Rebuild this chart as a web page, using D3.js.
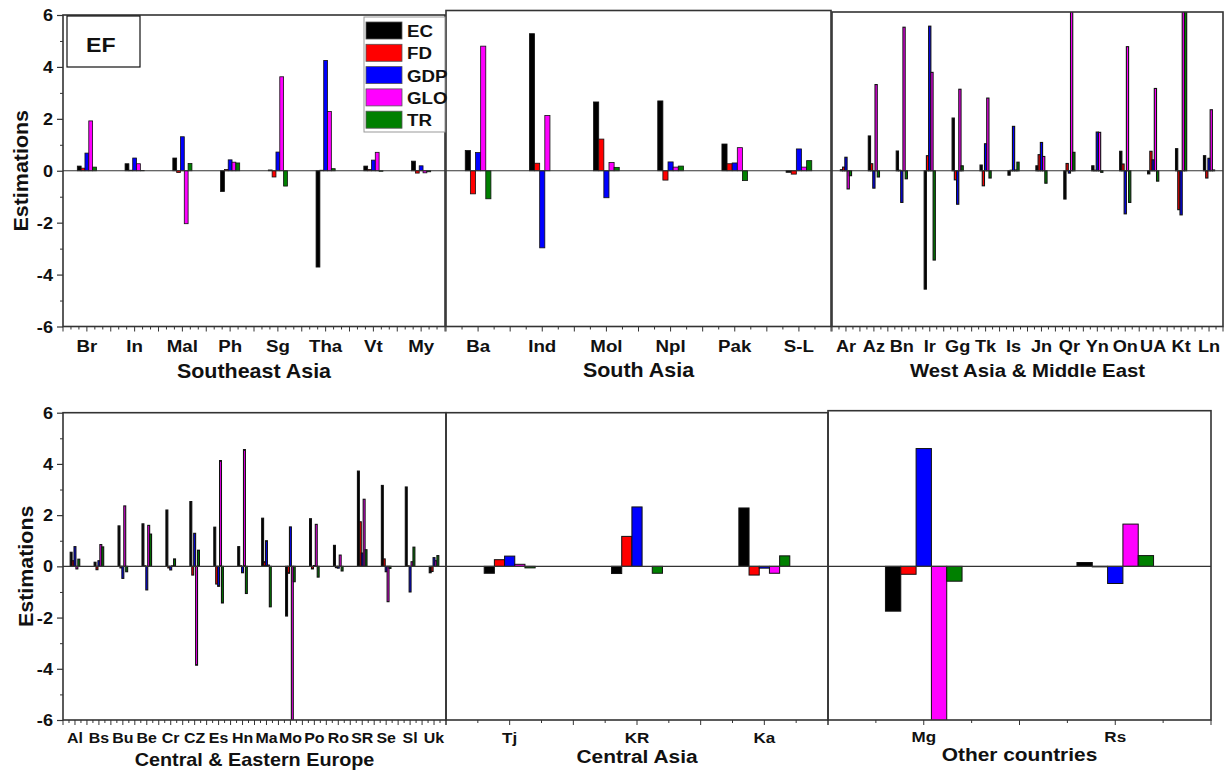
<!DOCTYPE html>
<html>
<head>
<meta charset="utf-8">
<script src="https://cdn.jsdelivr.net/npm/d3@7"></script>
<style>
  body { margin: 0; background: #fff; }
  text { font-family: "Liberation Sans", Arial, sans-serif; font-weight: bold; fill: #111; }
</style>
</head>
<body>
<script>
// series order inside every group
const series = ["EC", "FD", "GDP", "GLO", "TR"]
const seriesColors = ["#000000", "#ff0000", "#0000ff", "#ff00ff", "#008000"]
const yMajor = [-6, -4, -2, 0, 2, 4, 6]
const yMinor = [-5, -3, -1, 1, 3, 5]

// rows are countries, columns follow `series`
const seaCountries = ["Br", "In", "Mal", "Ph", "Sg", "Tha", "Vt", "My"]
const seaValues = [
  [0.18, 0.10, 0.68, 1.92, 0.14],
  [0.27, 0.02, 0.49, 0.27, 0.01],
  [0.49, -0.07, 1.31, -2.04, 0.28],
  [-0.80, 0.05, 0.42, 0.33, 0.30],
  [0.03, -0.24, 0.72, 3.62, -0.59],
  [-3.71, 0.02, 4.25, 2.28, 0.08],
  [0.18, 0.05, 0.41, 0.71, -0.02],
  [0.37, -0.09, 0.19, -0.08, -0.04]
]

const saCountries = ["Ba", "Ind", "Mol", "Npl", "Pak", "S-L"]
const saValues = [
  [0.78, -0.89, 0.70, 4.80, -1.08],
  [5.28, 0.29, -2.97, 2.13, 0.00],
  [2.65, 1.22, -1.04, 0.32, 0.13],
  [2.69, -0.36, 0.34, 0.14, 0.18],
  [1.03, 0.27, 0.30, 0.89, -0.38],
  [-0.06, -0.13, 0.84, 0.14, 0.39]
]

const waCountries = ["Ar", "Az", "Bn", "Ir", "Gg", "Tk", "Is", "Jn", "Qr", "Yn", "On", "UA", "Kt", "Ln"]
const waValues = [
  [0.04, 0.14, 0.52, -0.70, -0.19],
  [1.34, 0.27, -0.67, 3.32, -0.24],
  [0.76, 0.02, -1.22, 5.53, -0.31],
  [-4.56, 0.58, 5.57, 3.79, -3.44],
  [2.03, -0.35, -1.29, 3.14, 0.19],
  [0.22, -0.58, 1.04, 2.80, -0.28],
  [-0.17, 0.02, 1.71, 0.03, 0.33],
  [0.19, 0.62, 1.09, 0.55, -0.48],
  [-1.09, 0.28, -0.09, 6.50, 0.71],
  [0.19, 0.02, 1.49, 1.48, -0.06],
  [0.75, 0.26, -1.66, 4.78, -1.22],
  [-0.12, 0.75, 0.42, 3.17, -0.40],
  [0.85, -1.50, -1.70, 6.50, 6.50],
  [0.58, -0.28, 0.48, 2.35, 0.03]
]

const ceeCountries = ["Al", "Bs", "Bu", "Be", "Cr", "CZ", "Es", "Hn", "Ma", "Mo", "Po", "Ro", "SR", "Se", "Sl", "Uk"]
const ceeValues = [
  [0.55, 0.22, 0.77, -0.10, 0.28],
  [0.16, -0.13, 0.22, 0.85, 0.76],
  [1.58, -0.06, -0.47, 2.36, -0.21],
  [1.66, 0.02, -0.92, 1.60, 1.26],
  [2.20, -0.06, -0.14, 0.02, 0.29],
  [2.53, -0.34, 1.29, -3.86, 0.63],
  [1.53, -0.69, -0.78, 4.13, -1.43],
  [0.77, 0.02, -0.25, 4.56, -1.06],
  [1.88, 0.18, 1.00, 0.05, -1.58],
  [-1.94, -0.27, 1.54, -6.50, -0.60],
  [1.86, -0.10, 0.03, 1.64, -0.42],
  [0.82, -0.05, -0.07, 0.44, -0.18],
  [3.72, 1.74, 0.52, 2.62, 0.65],
  [3.16, 0.29, -0.21, -1.38, -0.08],
  [3.10, 0.02, -1.00, 0.18, 0.75],
  [-0.25, -0.20, 0.34, 0.22, 0.42]
]

const caCountries = ["Tj", "KR", "Ka"]
const caValues = [
  [-0.27, 0.26, 0.40, 0.08, -0.06],
  [-0.28, 1.17, 2.32, 0.00, -0.27],
  [2.28, -0.34, -0.07, -0.27, 0.41]
]

const otherCountries = ["Mg", "Rs"]
const otherValues = [
  [-1.75, -0.31, 4.60, -6.50, -0.58],
  [0.15, -0.02, -0.67, 1.65, 0.42]
]

// layout
const topY = d3.scaleLinear().domain([-6, 6]).range([326.5, 15])
const botY = d3.scaleLinear().domain([-6, 6]).range([720, 412.7])
const stretch = 1.1   // the reference text is a bit wider than Arial

const panels = [
  { title: "Southeast Asia", cats: seaCountries, vals: seaValues, x0: 63, x1: 445, top: 15, y: topY,
    yAxis: true, minorPer: 6, labelSize: 17, labelBase: 352, titleSize: 19.5, titleBase: 378, stroke: 0.8 },
  { title: "South Asia", cats: saCountries, vals: saValues, x0: 446, x1: 831, top: 10.5, y: topY,
    yAxis: false, minorPer: 4, labelSize: 17, labelBase: 352, titleSize: 19.5, titleBase: 377, stroke: 0.8 },
  { title: "West Asia & Middle East", cats: waCountries, vals: waValues, x0: 832, x1: 1223, top: 12, y: topY,
    yAxis: false, minorPer: 4, labelSize: 16.5, labelBase: 352, titleSize: 18.5, titleBase: 377, stroke: 1.1 },
  { title: "Central & Eastern Europe", cats: ceeCountries, vals: ceeValues, x0: 63, x1: 446, top: 412.7, y: botY,
    yAxis: true, minorPer: 4, labelSize: 14.5, labelBase: 743, titleSize: 18, titleBase: 766, stroke: 1.1 },
  { title: "Central Asia", cats: caCountries, vals: caValues, x0: 446, x1: 828, top: 412.7, y: botY,
    yAxis: false, minorPer: 4, labelSize: 15.5, labelBase: 743, titleSize: 19, titleBase: 763, stroke: 1 },
  { title: "Other countries", cats: otherCountries, vals: otherValues, x0: 828, x1: 1211, top: 410.7, y: botY,
    yAxis: false, minorPer: 4, labelSize: 15.5, labelBase: 742, titleSize: 19, titleBase: 761, stroke: 1 }
]

const svg = d3.select("body").append("svg")
  .attr("width", 1229)
  .attr("height", 774)
  .attr("xmlns", "http://www.w3.org/2000/svg")

svg.append("rect").attr("width", 1229).attr("height", 774).attr("fill", "#fff")

function label(parent, x, y, size, str, anchor, rotate) {
  return parent.append("text")
    .attr("transform", "translate(" + x + "," + y + ")" + (rotate ? " rotate(-90)" : "") + " scale(" + stretch + ",1)")
    .attr("text-anchor", anchor || "middle")
    .attr("font-size", size)
    .text(str)
}

panels.forEach(function(p, pi) {
  let y = p.y
  let bottom = y.range()[0]
  let g = svg.append("g")

  let x = d3.scaleBand().domain(p.cats).range([p.x0, p.x1]).padding(0)
  let bw = x.bandwidth()
  let inner = d3.scaleBand().domain(series).range([bw * 0.3, bw * 0.7]).padding(0)

  let clipId = "clip" + pi
  svg.append("clipPath").attr("id", clipId)
    .append("rect")
    .attr("x", p.x0).attr("y", p.top)
    .attr("width", p.x1 - p.x0).attr("height", bottom - p.top)

  // bars
  let rows = []
  p.cats.forEach(function(c, i) {
    series.forEach(function(s, j) {
      rows.push({ cat: c, s: s, j: j, v: p.vals[i][j] })
    })
  })
  g.append("g").attr("clip-path", "url(#" + clipId + ")")
    .selectAll("rect").data(rows).join("rect")
    .attr("x", d => x(d.cat) + inner(d.s))
    .attr("width", inner.bandwidth())
    .attr("y", d => Math.min(y(d.v), y(0)))
    .attr("height", d => Math.abs(y(d.v) - y(0)))
    .attr("fill", d => seriesColors[d.j])
    .attr("stroke", "#111")
    .attr("stroke-width", p.stroke)

  // zero line
  g.append("line")
    .attr("x1", p.x0).attr("x2", p.x1)
    .attr("y1", y(0)).attr("y2", y(0))
    .attr("stroke", "#333").attr("stroke-width", 1.1)

  // x ticks: minor every 1/minorPer of a band, longer at half bands
  let xl = d3.scaleLinear().domain([0, p.cats.length]).range([p.x0, p.x1])
  let steps = d3.range(0, p.cats.length * p.minorPer + 1)
  g.append("g").selectAll("line").data(steps).join("line")
    .attr("x1", k => xl(k / p.minorPer)).attr("x2", k => xl(k / p.minorPer))
    .attr("y1", bottom)
    .attr("y2", k => bottom + ((k * 2) % p.minorPer === 0 ? 5 : 3))
    .attr("stroke", "#333").attr("stroke-width", 1)

  // category labels and panel title
  p.cats.forEach(function(c) {
    label(g, x(c) + bw / 2, p.labelBase, p.labelSize, c)
  })
  label(g, (p.x0 + p.x1) / 2, p.titleBase, p.titleSize, p.title)

  if (p.yAxis) {
    let ax = g.append("g").attr("transform", "translate(" + p.x0 + ",0)")
      .call(d3.axisLeft(y).tickValues(yMajor).tickSize(6).tickFormat(""))
    ax.select(".domain").remove()
    ax.selectAll("line").attr("stroke", "#333").attr("stroke-width", 1.2)
    let mx = g.append("g").attr("transform", "translate(" + p.x0 + ",0)")
      .call(d3.axisLeft(y).tickValues(yMinor).tickSize(3).tickFormat(""))
    mx.select(".domain").remove()
    mx.selectAll("line").attr("stroke", "#333").attr("stroke-width", 1)

    yMajor.forEach(function(v) {
      label(g, p.x0 - 10, y(v) + 6, 16.5, String(v), "end")
    })
    label(g, pi === 0 ? 28 : 33, y(0), 19.5, "Estimations", "middle", true)
  }

  // frame
  g.append("rect")
    .attr("x", p.x0).attr("y", p.top)
    .attr("width", p.x1 - p.x0).attr("height", bottom - p.top)
    .attr("fill", "none")
    .attr("stroke", "#333").attr("stroke-width", 1.6)
})

// EF label box
svg.append("rect")
  .attr("x", 67).attr("y", 16).attr("width", 73).attr("height", 51)
  .attr("fill", "#fff").attr("stroke", "#111").attr("stroke-width", 1.2)
label(svg, 86, 52, 21, "EF", "start")

// legend
let legend = svg.append("g")
legend.append("rect")
  .attr("x", 364).attr("y", 17).attr("width", 81).attr("height", 115)
  .attr("fill", "#fff").attr("stroke", "#999").attr("stroke-width", 1)
series.forEach(function(s, i) {
  let row = legend.append("g").attr("transform", "translate(366," + (22 + i * 22.3) + ")")
  row.append("rect")
    .attr("width", 36).attr("height", 17)
    .attr("fill", seriesColors[i])
    .attr("stroke", "#555").attr("stroke-width", 0.8)
  label(row, 41, 15, 17, s, "start")
})
</script>
</body>
</html>
